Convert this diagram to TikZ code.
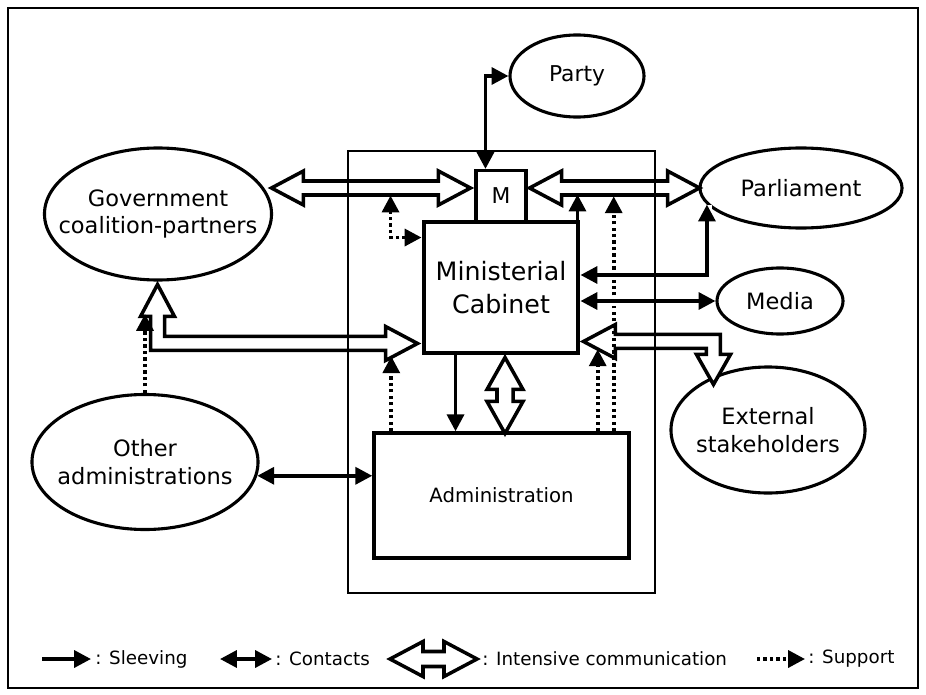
\documentclass[tikz,border=0pt]{standalone}
\usepackage{fontspec}
\setmainfont{DejaVu Sans}
\usetikzlibrary{shapes.geometric, arrows.meta, positioning, calc}

\tikzset{
  actor/.style={ellipse, draw, line width=2.2pt, inner sep=0pt},
  actorlabel/.style={align=center, inner sep=0pt, font=\fontsize{16}{19.5}\selectfont},
  sleeve/.style={line width=2.6pt, ->},
  contact/.style={line width=2.6pt, <->},
  halo/.style={preaction={draw=white, line width=7pt, -}},
  support/.style={line width=2.6pt, dash pattern=on 2.3pt off 2.3pt, ->},
  intense/.style={draw, fill=white, line width=2.5pt, line join=miter},
  legend/.style={anchor=west, inner sep=0pt, font=\fontsize{13}{15}\selectfont},
}

\begin{document}
\begin{tikzpicture}[x=0.025cm, y=-0.025cm, >={Triangle[length=12pt, width=12pt]}]
  \useasboundingbox (0,0) rectangle (926,695);
  \draw[line width=1.2pt] (8,8) rectangle (918,688);

  % Actors around the ministry
  \node[actor, minimum width=3.35cm, minimum height=2.05cm] (party) at (577,76) {};
  \node[actorlabel, font=\fontsize{15.5}{18}\selectfont] (partytext) at (party) {Party};
  \node[actor, minimum width=5.05cm, minimum height=2cm] (parl) at (801,188) {};
  \node[actorlabel] (parltext) at (parl) {Parliament};
  \node[actor, minimum width=3.15cm, minimum height=1.65cm] (media) at (780,301) {};
  \node[actorlabel] (mediatext) at (media) {Media};
  \node[actor, minimum width=4.85cm, minimum height=3.15cm] (ext) at (768,430) {};
  \node[actorlabel] (exttext) at (ext) {External\\stakeholders};
  \node[actor, minimum width=5.675cm, minimum height=3.3cm] (gov) at (158,214) {};
  \node[actorlabel] (govtext) at (gov) {Government\\coalition-partners};
  \node[actor, minimum width=5.65cm, minimum height=3.375cm] (other) at (145,462) {};
  \node[actorlabel] (othertext) at (other) {Other\\administrations};

  % Ministry
  \node[draw, line width=2.2pt, minimum width=1.25cm, minimum height=1.275cm, inner sep=0pt, font=\fontsize{15.5}{17}\selectfont] (mbox) at (501,196) {M};
  \node[draw, line width=3.5pt, minimum width=3.85cm, minimum height=3.275cm, align=center, font=\fontsize{18}{23}\selectfont] (cab) at (501,287.5) {Ministerial\\Cabinet};
  \node[draw, line width=2.4pt, minimum width=6.375cm, minimum height=3.125cm, font=\fontsize{14}{16}\selectfont] (admin) at (501.5,495.5) {Administration};

  % Intensive communication
  \draw[intense] ($(mbox.west)+(-4,-8)$) -- ++(-32,-17) -- ++(0,10) -- ++(-135,0) -- ++(0,-10) -- ++(-32,17)
    -- ++(32,17) -- ++(0,-10) -- ++(135,0) -- ++(0,10) -- cycle;
  \draw[intense] ($(mbox.east)+(2,-8)$) -- ++(32,-17) -- ++(0,10) -- ++(106,0) -- ++(0,-10) -- ++(32,17)
    -- ++(-32,17) -- ++(0,-10) -- ++(-106,0) -- ++(0,10) -- cycle;
  \draw[intense] ($(cab.south west)+(-4,-12)$) -- ++(-32,-17) -- ++(0,10) -- ++(-221,0) -- ++(0,-20) -- ++(10,0)
    -- ++(-17,-32) -- ++(-17,32) -- ++(10,0) -- ++(0,34) -- ++(235,0) -- ++(0,10) -- cycle;
  \draw[intense] ($(cab.south east)+(3,-14)$) -- ++(32,-17) -- ++(0,10) -- ++(105,0) -- ++(0,20) -- ++(10,0)
    -- ++(-17,30) -- ++(-17,-30) -- ++(10,0) -- ++(0,-6) -- ++(-91,0) -- ++(0,10) -- cycle;
  \draw[intense] ($(cab.south)+(4,2)$) -- ++(18,32) -- ++(-10,0) -- ++(0,12) -- ++(10,0) -- ++(-18,32)
    -- ++(-18,-32) -- ++(10,0) -- ++(0,-12) -- ++(-10,0) -- cycle;

  % Support
  \draw[support, <->] ($(cab.north west)+(0,18)$) -| ($(cab.north west)+(-31,-24)$);
  \draw[support] ($(admin.north west)+(19,0)$) -- ++(0,-75);
  \draw[support] ($(admin.north east)+(-33,0)$) -- ++(0,-82);
  \draw[support] ($(admin.north east)+(-17,0)$) -- ++(0,-235);
  \draw[support] (other.north) -- ++(0,-79);

  % Sleeving and contacts
  \coordinate (s1) at ($(cab.south west)+(34,0)$);
  \draw[contact] (party.west) -| ($(mbox.north west)+(11,0)$);
  \draw[sleeve] (s1) -- (s1 |- admin.north);
  \draw[sleeve] ($(cab.north east)+(-3,0)$) -- ++(0,-25);
  \draw[contact, halo] ($(cab.east)+(0,-12.5)$) -| (parl.190);
  \draw[contact, halo] (cab.east |- media.west) -- (media.west);
  \draw[contact] (other.-7) -- (other.-7 -| admin.west);

  % Ministry frame
  \node[draw, line width=1.2pt, minimum width=7.675cm, minimum height=11.05cm, inner sep=0pt] (ministry) at (501.5,372) {};

  % Legend
  \node[legend] (lsleeve) at (95,659) {: Sleeving};
  \node[legend] (lcontact) at (275,659) {: Contacts};
  \node[legend] (lintense) at (482,659) {: Intensive communication};
  \node[legend] (lsupport) at (808,659) {: Support};
  \draw[sleeve] ($(lsleeve.west)+(-53,0)$) -- ($(lsleeve.west)+(-4,0)$);
  \draw[contact] ($(lcontact.west)+(-55,0)$) -- ($(lcontact.west)+(-3,0)$);
  \draw[intense] ($(lintense.west)+(-5,0)$) -- ++(-33,-17.5) -- ++(0,10) -- ++(-21,0) -- ++(0,-10) -- ++(-33,17.5)
    -- ++(33,17.5) -- ++(0,-10) -- ++(21,0) -- ++(0,10) -- cycle;
  \draw[support] ($(lsupport.west)+(-51,0)$) -- ($(lsupport.west)+(-3,0)$);
\end{tikzpicture}
\end{document}
